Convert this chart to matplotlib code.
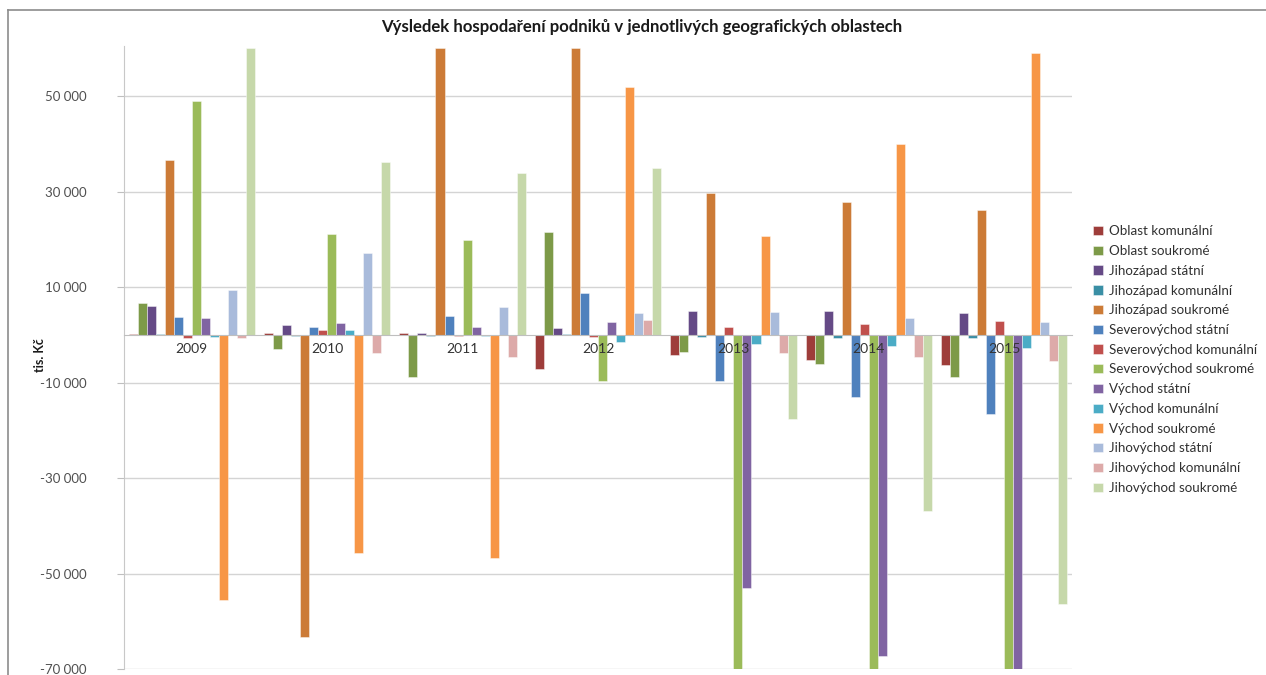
import matplotlib
matplotlib.use("Agg")
import matplotlib.pyplot as plt
import numpy as np
from matplotlib.lines import Line2D
from matplotlib.ticker import FuncFormatter

plt.rcParams['font.family'] = ['Lato', 'DejaVu Sans']

years = ['2009', '2010', '2011', '2012', '2013', '2014', '2015']

series_names = [
    'Oblast komunální', 'Oblast soukromé',
    'Jihozápad státní', 'Jihozápad komunální', 'Jihozápad soukromé',
    'Severovýchod státní', 'Severovýchod komunální', 'Severovýchod soukromé',
    'Východ státní', 'Východ komunální', 'Východ soukromé',
    'Jihovýchod státní', 'Jihovýchod komunální', 'Jihovýchod soukromé',
]

oblast_komunalni = [200, 300, 400, -7100, -4300, -5300, -6400]
oblast_soukrome = [6600, -3000, -8900, 21500, -3600, -6200, -8800]
jihozapad_statni = [6100, 2000, 300, 1500, 5000, 4900, 4600]
jihozapad_komunalni = [100, -300, -300, 100, -400, -600, -700]
jihozapad_soukrome = [36700, -63400, 60000, 60000, 29700, 27900, 26200]
severovychod_statni = [3800, 1600, 3900, 8800, -9700, -13100, -16600]
severovychod_komunalni = [-700, 1100, -300, -400, 1600, 2300, 2800]
severovychod_soukrome = [49000, 21200, 19800, -9600, -70000, -70000, -70000]
vychod_statni = [3600, 2500, 1600, 2700, -53100, -67300, -70000]
vychod_komunalni = [-400, 1100, -200, -1500, -2000, -2300, -2700]
vychod_soukrome = [-55600, -45800, -46700, 52000, 20800, 40000, 59100]
jihovychod_statni = [9300, 17100, 5800, 4500, 4800, 3600, 2600]
jihovychod_komunalni = [-600, -3900, -4600, 3100, -3900, -4700, -5500]
jihovychod_soukrome = [60000, 36300, 33800, 35000, -17600, -37000, -56400]

series_values = [
    oblast_komunalni, oblast_soukrome,
    jihozapad_statni, jihozapad_komunalni, jihozapad_soukrome,
    severovychod_statni, severovychod_komunalni, severovychod_soukrome,
    vychod_statni, vychod_komunalni, vychod_soukrome,
    jihovychod_statni, jihovychod_komunalni, jihovychod_soukrome,
]

colors = [
    '#9E3D3A', '#7D9A48', '#654A86', '#3A8FA5', '#CC7B37',
    '#4F81BD', '#C0504D', '#9BBB59', '#8064A2', '#4BACC6',
    '#F79646', '#A9BBDB', '#DDAAA9', '#C6D8AA',
]

W, H = 1266, 675
fig = plt.figure(figsize=(W / 100, H / 100), dpi=100)
fig.patch.set_facecolor('white')

ax = fig.add_axes([124 / W, 1 - 669 / H, (1072 - 124) / W, (669 - 46) / H])

n = len(series_names)
w = 1.0 / (n + 1)
x = np.arange(len(years))
for j, (name, vals, col) in enumerate(zip(series_names, series_values, colors)):
    ax.bar(x + (j - (n - 1) / 2) * w, vals, width=w, color=col,
           edgecolor=(1, 1, 1, 0.6), linewidth=0.5, label=name, zorder=2)

ax.set_xlim(-0.5, len(years) - 0.5)
ax.set_ylim(-70000, 60500)
ax.set_yticks(np.arange(-70000, 60001, 20000))
ax.yaxis.set_major_formatter(FuncFormatter(lambda v, p: f"{int(v):,}".replace(',', ' ')))
ax.yaxis.grid(True, color='#D4D4D4', linewidth=1.0)
ax.yaxis.set_zorder(0.5)
ax.tick_params(axis='y', length=5, color='#BFBFBF', pad=22, labelsize=9.5,
               labelcolor='#505050')

ax.set_xticks(x)
ax.set_xticklabels(years)
ax.tick_params(axis='x', length=0, pad=6, labelsize=10, labelcolor='#333333')
ax.xaxis.set_zorder(3)

ax.spines['bottom'].set_position(('data', 0))
ax.spines['bottom'].set_color('#BFBFBF')
ax.spines['bottom'].set_zorder(2.6)
ax.spines['left'].set_color('#C8C8C8')
ax.spines['top'].set_visible(False)
ax.spines['right'].set_visible(False)

fig.text(642 / W, 1 - 27 / H,
         'Výsledek hospodaření podniků v jednotlivých geografických oblastech',
         ha='center', va='center', fontsize=12.1, fontweight='bold', color='#1A1A1A')

fig.text(40 / W, 1 - 355 / H, 'tis. Kč', rotation=90, ha='center', va='center',
         fontsize=9, fontweight='bold', color='#1A1A1A')

fig.legend(loc='upper left', bbox_to_anchor=(1088 / W, 1 - 220 / H),
           frameon=False, fontsize=9.6, handlelength=0.7, handleheight=0.7,
           handletextpad=0.45, labelspacing=0.58, borderaxespad=0,
           labelcolor='#303030')

# outer frame of the chart area
fig.add_artist(Line2D([8 / W, 8 / W], [0, 1 - 10 / H], transform=fig.transFigure,
                      color='#8C8C8C', linewidth=1.2))
fig.add_artist(Line2D([8 / W, 1], [1 - 10 / H, 1 - 10 / H], transform=fig.transFigure,
                      color='#8C8C8C', linewidth=1.2))

fig.savefig('out.png', dpi=100, facecolor='white')
